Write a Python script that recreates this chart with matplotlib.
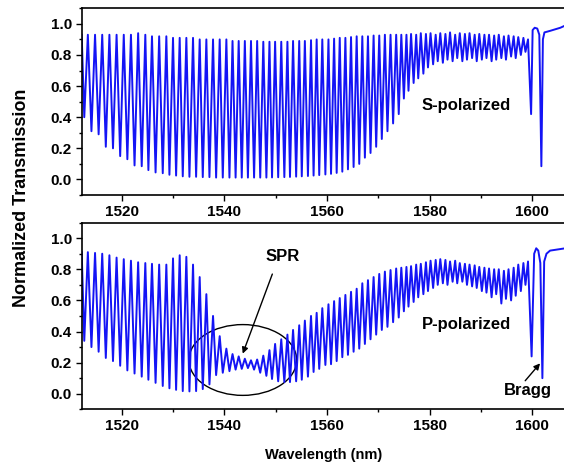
import matplotlib
matplotlib.use("Agg")
import matplotlib.pyplot as plt
from matplotlib.patches import Ellipse

plt.rcParams['font.family'] = ['Liberation Sans', 'DejaVu Sans']
plt.rcParams['font.weight'] = 'bold'

# fringe dip wavelengths (nm) and the maximum that follows each dip
dip_nm = [1512.7, 1514.1, 1515.5, 1516.9, 1518.3, 1519.7, 1521.1, 1522.5, 1523.9, 1525.2,
          1526.6, 1528.0, 1529.3, 1530.6, 1531.9, 1533.2, 1534.5, 1535.8, 1537.1, 1538.4,
          1539.7, 1541.0, 1542.2,
          1543.4, 1544.6, 1545.8, 1547.0, 1548.2, 1549.3, 1550.5, 1551.7, 1552.8, 1554.0,
          1555.1, 1556.3, 1557.4, 1558.5, 1559.7, 1560.8, 1561.9, 1563.0, 1564.1, 1565.2,
          1566.3, 1567.4, 1568.5, 1569.6, 1570.7, 1571.8, 1572.9, 1574.0,
          1575.0, 1575.9, 1576.9, 1577.8, 1578.8, 1579.7, 1580.7, 1581.6, 1582.6, 1583.5,
          1584.5, 1585.4, 1586.4, 1587.3, 1588.3, 1589.2, 1590.2, 1591.1, 1592.1, 1593.0,
          1594.0, 1594.9, 1595.9, 1596.8, 1597.8, 1598.7]
peak_nm = [1513.4, 1514.8, 1516.2, 1517.6, 1519.0, 1520.4, 1521.8, 1523.2, 1524.6, 1525.9,
           1527.3, 1528.7, 1530.0, 1531.3, 1532.6, 1533.9, 1535.2, 1536.5, 1537.8, 1539.1,
           1540.4, 1541.6, 1542.8,
           1544.0, 1545.2, 1546.4, 1547.6, 1548.8, 1549.9, 1551.1, 1552.3, 1553.4, 1554.6,
           1555.7, 1556.9, 1558.0, 1559.1, 1560.3, 1561.4, 1562.5, 1563.6, 1564.7, 1565.8,
           1566.9, 1568.0, 1569.1, 1570.2, 1571.3, 1572.4, 1573.5, 1574.5,
           1575.5, 1576.4, 1577.4, 1578.3, 1579.3, 1580.2, 1581.2, 1582.1, 1583.1, 1584.0,
           1585.0, 1585.9, 1586.9, 1587.8, 1588.8, 1589.7, 1590.7, 1591.6, 1592.6, 1593.5,
           1594.5, 1595.4, 1596.4, 1597.3, 1598.3, 1599.2]

# S-polarized
s_start = 0.93
s_dip = [0.40, 0.31, 0.29, 0.21, 0.20, 0.15, 0.13, 0.09, 0.085, 0.06,
         0.045, 0.04, 0.03, 0.025, 0.02, 0.017, 0.017, 0.015, 0.015, 0.012,
         0.012, 0.012, 0.012,
         0.012, 0.012, 0.012, 0.012, 0.012, 0.013, 0.014, 0.015, 0.016, 0.018,
         0.02, 0.022, 0.025, 0.028, 0.032, 0.036, 0.042, 0.05, 0.065, 0.08,
         0.10, 0.14, 0.17, 0.21, 0.26, 0.31, 0.36, 0.42,
         0.52, 0.57, 0.62, 0.65, 0.68, 0.72, 0.74, 0.76, 0.75, 0.77,
         0.76, 0.78, 0.76, 0.77, 0.78, 0.76, 0.77, 0.78, 0.76, 0.77,
         0.78, 0.77, 0.79, 0.78, 0.80, 0.82]
s_peak = [0.93, 0.93, 0.93, 0.93, 0.93, 0.93, 0.93, 0.94, 0.93, 0.92,
          0.92, 0.92, 0.91, 0.91, 0.91, 0.91, 0.90, 0.90, 0.90, 0.90,
          0.90, 0.89, 0.89,
          0.89, 0.89, 0.89, 0.885, 0.885, 0.885, 0.885, 0.885, 0.89, 0.89,
          0.89, 0.895, 0.90, 0.90, 0.90, 0.905, 0.91, 0.91, 0.915, 0.92,
          0.92, 0.92, 0.925, 0.925, 0.93, 0.93, 0.93, 0.93,
          0.93, 0.935, 0.93, 0.94, 0.935, 0.94, 0.93, 0.94, 0.935, 0.945,
          0.93, 0.94, 0.935, 0.94, 0.93, 0.935, 0.93, 0.93, 0.925, 0.93,
          0.92, 0.925, 0.92, 0.915, 0.91, 0.90]
s_tail_nm = [1599.8, 1600.1, 1600.5, 1601.0, 1601.4, 1601.8, 1602.1, 1602.4, 1603.5, 1604.5, 1605.5, 1606.5, 1607.5]
s_tail = [0.42, 0.96, 0.975, 0.97, 0.93, 0.085, 0.90, 0.945, 0.955, 0.965, 0.975, 0.99, 1.0]

# P-polarized
p_start = 0.91
p_dip = [0.34, 0.30, 0.27, 0.23, 0.21, 0.18, 0.15, 0.13, 0.11, 0.09,
         0.07, 0.05, 0.035, 0.025, 0.017, 0.015, 0.017, 0.03, 0.06, 0.12,
         0.135, 0.145, 0.155,
         0.16, 0.165, 0.155, 0.135, 0.115, 0.095, 0.08, 0.075, 0.075, 0.08,
         0.09, 0.11, 0.14, 0.16, 0.185, 0.19, 0.21, 0.235, 0.25, 0.27,
         0.29, 0.32, 0.35, 0.38, 0.41, 0.43, 0.46, 0.49,
         0.53, 0.56, 0.59, 0.62, 0.64, 0.66, 0.68, 0.70, 0.71, 0.70,
         0.72, 0.71, 0.72, 0.70, 0.69, 0.68, 0.66, 0.65, 0.62, 0.64,
         0.58, 0.61, 0.60, 0.63, 0.66, 0.70]
p_peak = [0.91, 0.905, 0.90, 0.89, 0.875, 0.865, 0.855, 0.845, 0.84, 0.835,
          0.83, 0.83, 0.87, 0.89, 0.88, 0.83, 0.75, 0.64, 0.50, 0.37,
          0.29, 0.255, 0.24,
          0.225, 0.215, 0.22, 0.245, 0.28, 0.32, 0.35, 0.38, 0.41, 0.44,
          0.47, 0.50, 0.52, 0.55, 0.575, 0.595, 0.615, 0.635, 0.655, 0.675,
          0.71, 0.73, 0.75, 0.77, 0.785, 0.795, 0.805, 0.81,
          0.815, 0.82, 0.83, 0.835, 0.845, 0.855, 0.86, 0.865, 0.86, 0.85,
          0.855, 0.84, 0.835, 0.83, 0.825, 0.815, 0.81, 0.805, 0.80, 0.80,
          0.79, 0.80, 0.81, 0.83, 0.84, 0.85]
p_tail_nm = [1599.9, 1600.4, 1600.8, 1601.2, 1601.6, 1602.0, 1602.35, 1602.8, 1603.5, 1604.5, 1605.5, 1606.5, 1607.5]
p_tail = [0.24, 0.90, 0.935, 0.92, 0.84, 0.10, 0.85, 0.90, 0.92, 0.925, 0.93, 0.935, 0.94]


def build(start, dips, peaks, tail_nm, tail):
    xs = [1512.2]
    ys = [start]
    for d, dv, p, pv in zip(dip_nm, dips, peak_nm, peaks):
        xs += [d, p]
        ys += [dv, pv]
    return xs + tail_nm, ys + tail


fig = plt.figure(figsize=(5.64, 4.66), dpi=100)
W, H = 564, 466
ax1 = fig.add_axes([81.7 / W, 1 - 195 / H, (570.6 - 81.7) / W, 186.7 / H])
ax2 = fig.add_axes([81.7 / W, 1 - 409.3 / H, (570.6 - 81.7) / W, 186.7 / H])

blue = '#1414f5'
x, y = build(s_start, s_dip, s_peak, s_tail_nm, s_tail)
ax1.plot(x, y, color=blue, lw=1.4, solid_joinstyle='round')
x, y = build(p_start, p_dip, p_peak, p_tail_nm, p_tail)
ax2.plot(x, y, color=blue, lw=1.4, solid_joinstyle='round')

for ax in (ax1, ax2):
    ax.set_xlim(1512.2, 1607.5)
    ax.set_ylim(-0.1, 1.1)
    ax.set_xticks([1520, 1540, 1560, 1580, 1600])
    ax.set_xticks([1530, 1550, 1570, 1590], minor=True)
    ax.set_yticks([0.0, 0.2, 0.4, 0.6, 0.8, 1.0])
    ax.set_yticks([-0.1, 0.1, 0.3, 0.5, 0.7, 0.9, 1.1], minor=True)
    ax.set_yticklabels(['0.0', '0.2', '0.4', '0.6', '0.8', '1.0'])
    ax.tick_params(which='major', direction='out', length=4, width=1.0, labelsize=11, pad=3)
    ax.tick_params(which='minor', direction='out', length=2.5, width=1.0)
    for sp in ax.spines.values():
        sp.set_linewidth(1.2)
    for lab in ax.get_xticklabels() + ax.get_yticklabels():
        lab.set_fontweight('bold')

ax1.text(1587.1, 0.474, 'S-polarized', fontsize=12, fontweight='bold', ha='center', va='center')
ax2.text(1587.2, 0.444, 'P-polarized', fontsize=12, fontweight='bold', ha='center', va='center')
ax2.text(1551.4, 0.882, 'SPR', fontsize=12, fontweight='bold', ha='center', va='center')
ax2.annotate('', xy=(1543.4, 0.241), xytext=(1549.55, 0.786),
             arrowprops=dict(arrowstyle='-|>', color='black', lw=1.0, mutation_scale=9))
ax2.add_patch(Ellipse((1543.6, 0.217), 21, 0.455, fill=False, edgecolor='black', lw=1.0))
ax2.text(1599.2, 0.02, 'Bragg', fontsize=12, fontweight='bold', ha='center', va='center')
ax2.annotate('', xy=(1601.9, 0.209), xytext=(1598.3, 0.07),
             arrowprops=dict(arrowstyle='-|>', color='black', lw=1.0, mutation_scale=9))

fig.text(22 / W, 1 - 198 / H, 'Normalized Transmission', rotation=90, fontsize=13,
         fontweight='bold', ha='center', va='center')
fig.text(324 / W, 1 - 455 / H, 'Wavelength (nm)', fontsize=10.5, fontweight='bold',
         ha='center', va='center')

fig.savefig('out.png', dpi=100)
